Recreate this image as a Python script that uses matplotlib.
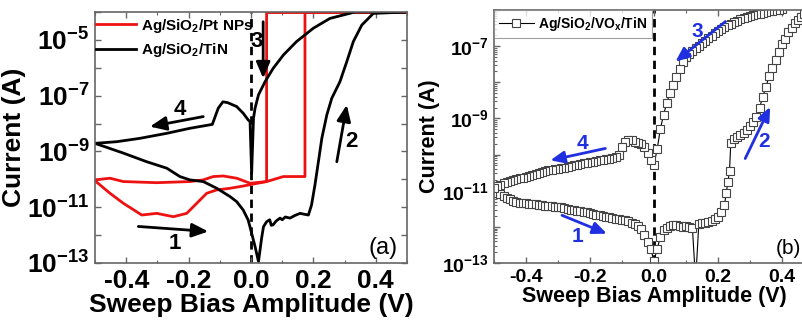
import numpy as np
import matplotlib
matplotlib.use('Agg')
import matplotlib.pyplot as plt
from matplotlib.ticker import LogLocator, FuncFormatter, MultipleLocator, NullFormatter

plt.rcParams['font.family'] = ['Liberation Sans', 'DejaVu Sans']
plt.rcParams['font.weight'] = 'bold'
plt.rcParams['mathtext.fontset'] = 'custom'
plt.rcParams['mathtext.rm'] = 'Liberation Sans:bold'
plt.rcParams['mathtext.bf'] = 'Liberation Sans:bold'
plt.rcParams['mathtext.it'] = 'Liberation Sans:bold'

# ---------------- panel (a) data: log10(current) vs bias ----------------
tin_fwd_v = [-0.50, -0.409, -0.334, -0.270, -0.228, -0.196, -0.153, -0.110, -0.067, -0.046,
             -0.025, -0.009, 0.002, 0.013, 0.024, 0.034, 0.040, 0.050, 0.060, 0.065, 0.071,
             0.080, 0.093, 0.100, 0.110, 0.125, 0.140, 0.157, 0.170, 0.184, 0.194, 0.205,
             0.216, 0.227, 0.243, 0.259, 0.285, 0.307, 0.328, 0.355, 0.392, 0.50]
tin_fwd_log = [-8.71, -9.06, -9.37, -9.60, -9.90, -10.02, -10.08, -10.32, -10.62, -10.80,
               -11.10, -11.46, -11.93, -12.41, -12.95, -12.11, -11.70, -11.52, -11.45, -11.65,
               -11.63, -11.50, -11.39, -11.45, -11.35, -11.39, -11.30, -11.22, -11.25, -11.28,
               -10.92, -10.20, -9.37, -8.53, -7.69, -7.09, -6.50, -5.78, -5.06, -4.47, -4.05, -4.0]

tin_bwd_v = [0.50, 0.333, 0.253, 0.200, 0.146, 0.104, 0.071, 0.045, 0.024, 0.013, 0.008, 0.002,
             -0.003, -0.009, -0.025, -0.046, -0.075, -0.090, -0.105, -0.124, -0.196, -0.270,
             -0.356, -0.430, -0.50]
tin_bwd_log = [-4.0, -4.0, -4.23, -4.58, -5.06, -5.54, -6.02, -6.50, -6.97, -7.45, -7.81, -9.8,
               -7.93, -7.87, -7.63, -7.39, -7.25, -7.22, -7.45, -8.03, -8.17, -8.35,
               -8.53, -8.65, -8.71]

pt_fwd_v = [-0.50, -0.452, -0.409, -0.350, -0.302, -0.249, -0.206, -0.174, -0.142, -0.110,
            -0.067, -0.025, 0.007, 0.050, 0.104, 0.173, 0.173, 0.50]
pt_fwd_log = [-10.05, -10.50, -10.86, -11.28, -11.22, -11.34, -11.22, -10.86, -10.50, -10.38,
              -10.32, -10.24, -10.17, -10.08, -9.90, -9.90, -4.02, -4.02]
pt_bwd_v = [0.50, 0.050, 0.050, -0.003, -0.046, -0.089, -0.121, -0.153, -0.196, -0.302,
            -0.409, -0.452, -0.50]
pt_bwd_log = [-4.02, -4.02, -10.08, -10.14, -9.96, -9.88, -9.90, -10.02, -10.08, -10.12,
              -10.08, -9.96, -10.02]

# ---------------- panel (b) data ----------------
vox_fwd_v = [-0.50, -0.49, -0.48, -0.47, -0.46, -0.45, -0.44, -0.43, -0.42, -0.41, -0.40,
             -0.39, -0.38, -0.37, -0.36, -0.35, -0.34, -0.33, -0.32, -0.31, -0.30,
             -0.29, -0.28, -0.27, -0.26, -0.25, -0.24, -0.23, -0.22, -0.21, -0.20,
             -0.19, -0.18, -0.17, -0.16, -0.15, -0.14, -0.13, -0.12, -0.11, -0.10,
             -0.09, -0.08, -0.07, -0.06, -0.05, -0.04, -0.03, -0.02, -0.01, 0.00,
             0.01, 0.02, 0.03, 0.04, 0.05, 0.06, 0.07, 0.08, 0.09, 0.10,
             0.11, 0.12, 0.13, 0.14, 0.15, 0.16, 0.17, 0.18, 0.19, 0.20,
             0.21, 0.22, 0.226, 0.231, 0.236, 0.24, 0.25, 0.26, 0.27, 0.28, 0.29, 0.30,
             0.31, 0.32, 0.33, 0.34, 0.35, 0.36, 0.37, 0.38, 0.39, 0.40,
             0.41, 0.42, 0.43, 0.44, 0.45, 0.46, 0.47, 0.48]
vox_fwd_log = [-10.98, -11.05, -11.10, -11.15, -11.19, -11.24, -11.28, -11.31, -11.33, -11.34, -11.35,
               -11.36, -11.37, -11.38, -11.39, -11.40, -11.41, -11.42, -11.43, -11.44, -11.45,
               -11.46, -11.48, -11.50, -11.52, -11.54, -11.55, -11.57, -11.59, -11.60, -11.62,
               -11.64, -11.66, -11.68, -11.70, -11.72, -11.73, -11.75, -11.77, -11.79, -11.81,
               -11.82, -11.85, -11.88, -11.91, -11.98, -12.07, -12.22, -12.41, -12.62, -12.95,
               -12.60, -12.28, -12.08, -12.02, -11.98, -11.96, -11.95, -11.98, -12.00, -11.98,
               -12.00, -12.02, -13.5, -11.92, -11.90, -11.88, -11.86, -11.83, -11.78, -11.72,
               -11.60, -11.40, -11.05, -10.75, -10.45, -9.68, -9.58, -9.52, -9.47, -9.40, -9.32, -9.22,
               -9.10, -8.95, -8.70, -8.40, -8.12, -7.82, -7.60, -7.38, -7.16, -6.95,
               -6.80, -6.62, -6.50, -6.37, -6.28, -6.20, -6.12, -6.05]

vox_bwd_v = [0.40, 0.39, 0.38, 0.37, 0.36, 0.35, 0.34, 0.33, 0.32, 0.31, 0.30,
             0.29, 0.28, 0.27, 0.26, 0.25, 0.24, 0.23, 0.22, 0.21, 0.20,
             0.19, 0.18, 0.17, 0.16, 0.15, 0.14, 0.13, 0.12, 0.11, 0.10,
             0.09, 0.08, 0.07, 0.06, 0.05, 0.04, 0.03, 0.02, 0.01, 0.00,
             -0.01, -0.02, -0.03, -0.04, -0.05, -0.06, -0.07, -0.08, -0.09, -0.10,
             -0.11, -0.12, -0.13, -0.14, -0.15, -0.16, -0.17, -0.18, -0.19, -0.20,
             -0.21, -0.22, -0.23, -0.24, -0.25, -0.26, -0.27, -0.28, -0.29, -0.30,
             -0.31, -0.32, -0.33, -0.34, -0.35, -0.36, -0.37, -0.38, -0.39, -0.40,
             -0.41, -0.42, -0.43, -0.44, -0.45, -0.46, -0.47, -0.48, -0.49, -0.50]
vox_bwd_log = [-5.97, -5.99, -6.01, -6.03, -6.04, -6.06, -6.08, -6.10, -6.12, -6.14, -6.16,
               -6.19, -6.22, -6.26, -6.30, -6.34, -6.38, -6.42, -6.47, -6.52, -6.58,
               -6.64, -6.71, -6.78, -6.85, -6.92, -6.99, -7.06, -7.14, -7.22, -7.31,
               -7.43, -7.62, -7.85, -8.08, -8.30, -8.56, -8.90, -9.28, -9.85, -10.28,
               -10.16, -9.97, -9.80, -9.72, -9.68, -9.64, -9.60, -9.60, -9.66, -9.80,
               -10.02, -10.06, -10.09, -10.11, -10.12, -10.14, -10.16, -10.18, -10.20, -10.21,
               -10.22, -10.24, -10.26, -10.28, -10.30, -10.32, -10.34, -10.36, -10.38, -10.39,
               -10.41, -10.42, -10.44, -10.46, -10.48, -10.50, -10.53, -10.56, -10.59, -10.62,
               -10.64, -10.66, -10.68, -10.71, -10.74, -10.77, -10.80, -10.84, -10.88, -10.93]

# arrows: (start, end, label, label position) in (V, log10 I)
arrows_a = [((-0.153, -7.75), (-0.324, -8.11), '4', (-0.228, -7.51)),
            ((-0.361, -11.69), (-0.137, -11.87), '1', (-0.244, -12.29)),
            ((0.039, -4.35), (0.039, -6.38), '3', (0.018, -5.06)),
            ((0.275, -9.37), (0.307, -7.33), '2', (0.323, -8.65))]
arrows_b = [((0.223, -6.32), (0.067, -7.43), '3', (0.134, -6.60)),
            ((-0.152, -9.83), (-0.324, -10.16), '4', (-0.225, -9.69)),
            ((-0.2875, -11.68), (-0.147, -12.19), '1', (-0.24, -12.28)),
            ((0.285, -10.11), (0.363, -8.68), '2', (0.343, -9.65))]

blue = '#2030e0'
spine_c = '#666666'


def odd_decade(v, pos):
    e = int(round(np.log10(v)))
    if e % 2:
        return r'$\mathbf{10^{%d}}$' % e
    return ''


def style_axes(ax, tick_size, label_size, minor_y):
    ax.set_yscale('log')
    ax.set_xlim(-0.5, 0.5)
    ax.xaxis.set_major_locator(MultipleLocator(0.2))
    ax.xaxis.set_minor_locator(MultipleLocator(0.1))
    ax.xaxis.set_major_formatter(FuncFormatter(lambda v, p: '%.1f' % v if abs(v) < 0.45 else ''))
    ax.yaxis.set_major_locator(LogLocator(base=10, numticks=20))
    ax.yaxis.set_major_formatter(FuncFormatter(odd_decade))
    if minor_y:
        ax.yaxis.set_minor_locator(LogLocator(base=10, subs=np.arange(2, 10), numticks=20))
    else:
        ax.yaxis.set_minor_locator(LogLocator(base=10, subs=[], numticks=20))
    ax.yaxis.set_minor_formatter(NullFormatter())
    ax.tick_params(which='both', direction='in', top=True, right=True, color=spine_c)
    ax.tick_params(which='major', length=4, width=1, labelsize=tick_size, pad=4)
    ax.tick_params(which='minor', length=2, width=0.8)
    for s in ax.spines.values():
        s.set_color(spine_c)
        s.set_linewidth(1.2)
    ax.set_xlabel('Sweep Bias Amplitude (V)', fontsize=label_size, fontweight='bold', labelpad=0)
    ax.set_ylabel('Current (A)', fontsize=label_size, fontweight='bold', labelpad=1)
    ax.axvline(0, color='k', ls=(0, (3, 2)), lw=2, zorder=1)


fig = plt.figure(figsize=(8.02, 3.22), dpi=100)

# ---------------- (a) ----------------
ax1 = fig.add_axes([95 / 802, 1 - 263 / 322, 312 / 802, 251 / 322])
ax1.plot(pt_fwd_v, 10 ** np.array(pt_fwd_log), color='#ee1111', lw=2, label='Ag/SiO$_2$/Pt NPs')
ax1.plot(pt_bwd_v, 10 ** np.array(pt_bwd_log), color='#ee1111', lw=2)
ax1.plot(tin_fwd_v, 10 ** np.array(tin_fwd_log), color='k', lw=2, label='Ag/SiO$_2$/TiN')
ax1.plot(tin_bwd_v, 10 ** np.array(tin_bwd_log), color='k', lw=2)
ax1.set_ylim(1e-13, 1e-4)
style_axes(ax1, 19, 19, False)
ax1.legend(loc='upper left', bbox_to_anchor=(-0.01, 1.0), frameon=False, borderaxespad=0,
           borderpad=0.3, handlelength=2.6, handletextpad=0.3, labelspacing=0.45,
           prop={'size': 11, 'weight': 'bold'})
for (x0, y0), (x1, y1), lab, (lx, ly) in arrows_a:
    ax1.annotate('', xy=(x1, 10 ** y1), xytext=(x0, 10 ** y0),
                 arrowprops=dict(arrowstyle='-|>,head_length=0.7,head_width=0.3',
                                 color='k', lw=2, mutation_scale=14, shrinkA=0, shrinkB=0))
    ax1.text(lx, 10 ** ly, lab, fontsize=16, fontweight='bold', ha='center', va='center')
ax1.text(0.424, 10 ** -12.47, '(a)', fontsize=17, fontweight='normal', ha='center', va='center')

# ---------------- (b) ----------------
ax2 = fig.add_axes([494 / 802, 1 - 263 / 322, 320 / 802, 253 / 322])
ax2.plot(vox_fwd_v, 10 ** np.array(vox_fwd_log), color='k', lw=0.8, marker='s', ms=6,
         mfc='white', mec='#444444', mew=0.8, label='Ag/SiO$_\\mathbf{2}$/VO$_\\mathbf{x}$/TiN')
ax2.plot(vox_bwd_v, 10 ** np.array(vox_bwd_log), color='k', lw=0.8, marker='s', ms=6,
         mfc='white', mec='#444444', mew=0.8)
ax2.set_ylim(1e-13, 1e-6)
style_axes(ax2, 14, 15.5, True)
leg = ax2.legend(loc='upper left', bbox_to_anchor=(0, 1.0), frameon=True, fancybox=False,
                 borderaxespad=0, borderpad=0.35, handlelength=2.5, handletextpad=0.3,
                 prop={'size': 10, 'weight': 'bold'})
leg.get_frame().set_edgecolor('#888888')
leg.get_frame().set_linewidth(0.8)
for (x0, y0), (x1, y1), lab, (lx, ly) in arrows_b:
    ax2.annotate('', xy=(x1, 10 ** y1), xytext=(x0, 10 ** y0),
                 arrowprops=dict(arrowstyle='-|>,head_length=0.7,head_width=0.3',
                                 color=blue, lw=2, mutation_scale=12, shrinkA=0, shrinkB=0))
    ax2.text(lx, 10 ** ly, lab, fontsize=15, fontweight='bold', color=blue, ha='center', va='center')
ax2.text(0.421, 10 ** -12.6, '(b)', fontsize=15, fontweight='normal', ha='center', va='center')

fig.savefig('out.png', dpi=100)
